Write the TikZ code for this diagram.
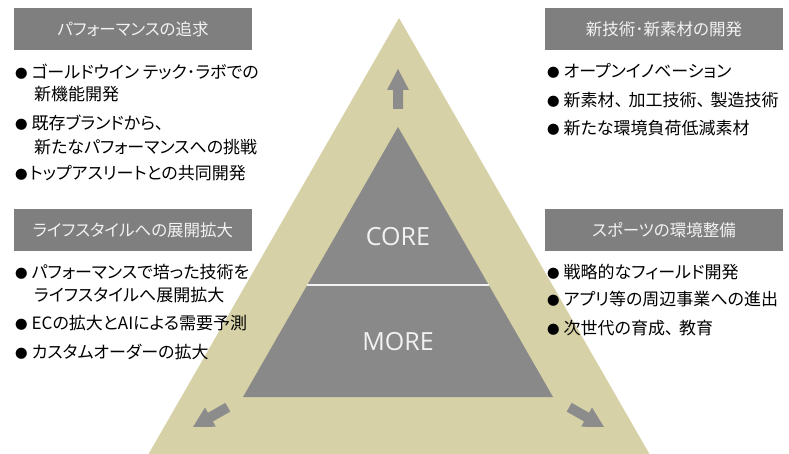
\documentclass[tikz,border=0pt]{standalone}
\usepackage{fontspec}
\setmainfont{Noto Sans CJK JP}[RawFeature=+palt]
\newfontfamily\latinfont{Open Sans}
\definecolor{tanfill}{RGB}{214,209,166}
\definecolor{coregray}{RGB}{137,137,137}
\definecolor{headgray}{RGB}{127,127,127}
\definecolor{arrowgray}{RGB}{140,140,140}
\definecolor{lighttext}{RGB}{242,242,242}
\newcommand{\bul}[1][4pt]{{\fontsize{12.5}{12.5}\selectfont●}\hspace{#1}}
\newcommand{\tc}{、\hspace{5.5pt}}
\begin{document}
\begin{tikzpicture}[x=1pt,y=-1pt,
  header/.style={fill=headgray, text=lighttext, minimum width=238pt, minimum height=42pt, inner sep=0pt, font=\fontsize{16.5}{16.5}\selectfont},
  item/.style={anchor=west, inner sep=0pt, text=black, font=\fontsize{17}{17}\selectfont},
  corelabel/.style={text=lighttext, font=\latinfont\fontsize{25}{25}\selectfont, inner sep=0pt},
  blockarrow/.style={fill=arrowgray}]
\useasboundingbox (0,0) rectangle (789,454);
\begin{scope}
\clip (0,0) rectangle (789,454);
\fill[tanfill] (148,455) -- (399,18) -- (650,455) -- cycle;
\end{scope}
\fill[coregray] (243,397) -- (398,127) -- (553,397) -- cycle;
\draw[lighttext, line width=1.2pt] (307,285) -- (489,285);
\node[corelabel] (core) at (398,237) {CORE};
\node[corelabel] (more) at (398,342) {MORE};
% arrows
\fill[blockarrow] (393,109) -- (393,90) -- (387,90) -- (398,69) -- (409,90) -- (403,90) -- (403,109) -- cycle;
\fill[blockarrow] (230.3,411.6) -- (212.9,421.5) -- (215.8,426.7) -- (193,427) -- (205.0,407.5) -- (207.9,412.8) -- (225.3,402.9) -- cycle;
\fill[blockarrow] (566.7,411.6) -- (584.1,421.5) -- (581.2,426.7) -- (604,427) -- (592,407.5) -- (589.1,412.8) -- (571.7,402.9) -- cycle;
% headers
\node[header] (h1) at (133,29) {パフォーマンスの追求};
\node[header] (h2) at (664,29) {新技術･新素材の開発};
\node[header] (h3) at (133,230) {ライフスタイルへの展開拡大};
\node[header] (h4) at (664,230) {スポーツの環境整備};
% left top
\node[item] (a1) at (15,72) {\bul ゴールドウイン テック･ラボでの};
\node[item] (a1b) at (34,94) {新機能開発};
\node[item] (a2) at (15,123) {\bul 既存ブランドから、};
\node[item] (a2b) at (34,147) {新たなパフォーマンスへの挑戦};
\node[item] (a3) at (15,173) {\bul[2pt]トップアスリートとの共同開発};
% right top
\node[item] (b1) at (547,71) {\bul オープンイノベーション};
\node[item] (b2) at (547,100) {\bul 新素材\tc 加工技術\tc 製造技術};
\node[item] (b3) at (547,128) {\bul 新たな環境負荷低減素材};
% left mid
\node[item] (c1) at (15,272) {\bul パフォーマンスで培った技術を};
\node[item] (c1b) at (34,295) {ライフスタイルへ展開拡大};
\node[item] (c2) at (15,323) {\bul ECの拡大とAIによる需要予測};
\node[item] (c3) at (15,352) {\bul カスタムオーダーの拡大};
% right mid
\node[item] (d1) at (547,272) {\bul 戦略的なフィールド開発};
\node[item] (d2) at (547,299) {\bul アプリ等の周辺事業への進出};
\node[item] (d3) at (547,328) {\bul 次世代の育成\tc 教育};
\end{tikzpicture}
\end{document}
